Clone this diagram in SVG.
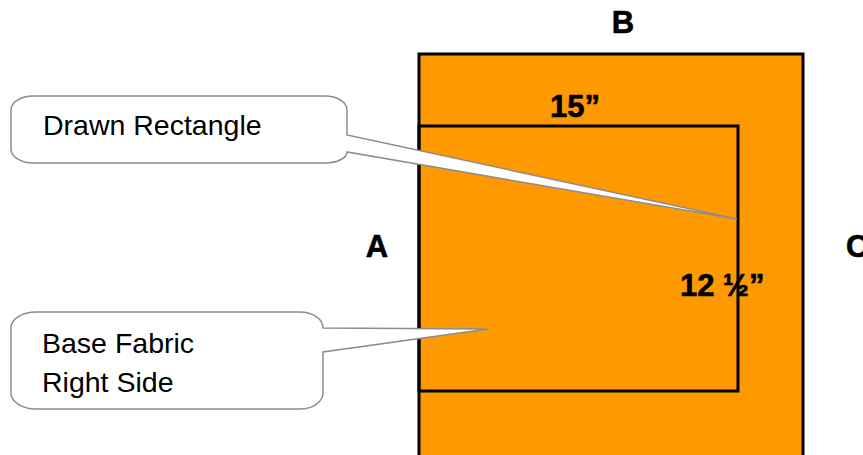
<svg xmlns="http://www.w3.org/2000/svg" width="863" height="455" viewBox="0 0 863 455">
<style>
.fabric{fill:#FF9900;stroke:#000;stroke-width:3}
.drawn{fill:none;stroke:#000;stroke-width:3}
.callout{fill:#fff;stroke:#8c8c8c;stroke-width:1.5;stroke-linejoin:miter}
.lbl{font-family:"Liberation Sans",Arial,sans-serif;font-weight:bold;font-size:31px;fill:#000;stroke:#000;stroke-width:0.6}
.ct{font-family:"Liberation Sans",Arial,sans-serif;font-size:28.5px;fill:#000}
</style>
<rect width="863" height="455" fill="#fff"/>
<g id="base-fabric">
<rect class="fabric" x="419" y="54" width="384" height="410"/>
</g>
<g id="drawn-rectangle">
<rect class="drawn" x="419" y="126" width="319" height="265"/>
</g>
<g id="labels">
<text class="lbl" x="623" y="33" text-anchor="middle">B</text>
<text class="lbl" x="377" y="257" text-anchor="middle">A</text>
<text class="lbl" x="846" y="257">C</text>
<text class="lbl" x="550" y="117">15”</text>
<text class="lbl" x="680" y="296" font-size="33">12 ½”</text>
</g>
<g id="connectors">
</g>
<g id="callout-drawn">
<path class="callout" d="M33,96 H325 A22 14 0 0 1 347,110 V135 L737,219 L347,152 A22 11 0 0 1 325,163 H33 A22 14 0 0 1 11,149 V110 A22 14 0 0 1 33,96 Z"/>
<text class="ct" x="43" y="135">Drawn Rectangle</text>
</g>
<g id="callout-base">
<path class="callout" d="M36,312 H300 A23 16 0 0 1 323,328 L488,329 L323,352 V393 A23 16 0 0 1 300,409 H36 A25 16 0 0 1 11,393 V328 A25 16 0 0 1 36,312 Z"/>
<text class="ct" x="42" y="353">Base Fabric</text>
<text class="ct" x="42" y="392">Right Side</text>
</g>
</svg>
